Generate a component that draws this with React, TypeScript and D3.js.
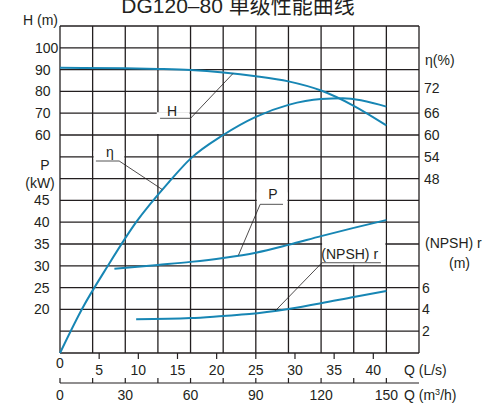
import React from "react";
import * as d3 from "d3";

// ---- data (Q in m³/h) ----
const Q_H = [0, 30, 45, 60, 75, 90, 105, 120, 135, 150];
const H_VALUES = [90.8, 90.6, 90.3, 89.8, 88.7, 87.0, 84.6, 80.4, 73.4, 64.4];
const Q_ETA = [0, 10, 22, 35, 50, 60, 75, 90, 105, 120, 130, 150];
const ETA_VALUES = [0, 12, 24, 36, 47, 53.5, 60, 65, 68.3, 69.9, 70.1, 67.8];
const Q_P = [25, 45, 60, 75, 90, 105, 120, 135, 150];
const P_VALUES = [29.3, 30.2, 30.9, 31.8, 33.0, 34.8, 36.8, 38.7, 40.5];
const Q_NPSH = [35, 60, 75, 87, 105, 120, 135, 150];
const NPSH_VALUES = [3.09, 3.2, 3.4, 3.57, 4.04, 4.56, 5.14, 5.69];

const H_TICKS = [100, 90, 80, 70, 60];
const P_TICKS = [45, 40, 35, 30, 25, 20];
const ETA_TICKS = [72, 66, 60, 54, 48];
const NPSH_TICKS = [6, 4, 2];
const QLS_TICKS = [0, 5, 10, 15, 20, 25, 30, 35, 40];
const QM3_TICKS = [0, 30, 60, 90, 120, 150];
const QM3_MINOR = [0, 15, 30, 45, 60, 75, 90, 105, 120, 135, 150];

const TITLE = "DG120–80 单级性能曲线";

const CURVE = "#1786b4";
const INK = "#231f20";
const FONT = "'Liberation Sans', Arial, 'Noto Sans CJK SC', sans-serif";

export default function App() {
  const x = d3.scaleLinear().domain([0, 165]).range([60, 419]);
  const yH = d3.scaleLinear().domain([-40, 110]).range([353, 26]);
  const yP = d3.scaleLinear().domain([10, 85]).range([353, 26]);
  const yEta = d3.scaleLinear().domain([0, 90]).range([353, 26]);
  const yN = d3.scaleLinear().domain([0, 30]).range([353, 26]);
  const xLs = (v: number) => x(v * 3.6);

  const mk = (qs: number[], vs: number[], y: d3.ScaleLinear<number, number>) =>
    d3
      .line<number>()
      .x((_, i) => x(qs[i]))
      .y((v) => y(v))
      .curve(d3.curveMonotoneX)(vs) || "";

  const vLines = d3.range(0, 166, 15);
  const hLines = d3.range(-40, 111, 10);

  // white label boxes (in data units)
  const masks = [
    { x0: x(45) - 1.2, x1: x(60) - 1, y0: yH(70) - 1, y1: yH(60) - 1 },
    { x0: x(15) + 1, x1: x(30) - 1, y0: yH(50) - 6, y1: yH(50) + 2 },
    { x0: x(90) + 1, x1: x(105) - 1, y0: yH(30) - 8, y1: yH(30) + 2 },
    { x0: x(120) + 1, x1: x(150) - 1, y0: yH(20) + 1, y1: yH(0) - 1 },
  ];

  const annotations = [
    { text: "H", tx: 51.5, ty: 68.7, anchor: "middle", u0: 46, u1: 60, uy: 67.66, from: 60, to: [79.5, yH(88.2)] },
    { text: "η", tx: 22.9, ty: 49.9, anchor: "middle", u0: 16.5, u1: 27.2, uy: 48.07, from: 27.2, to: [47, yEta(45)] },
    { text: "P", tx: 97.9, ty: 30.8, anchor: "middle", u0: 92, u1: 102.5, uy: 28.2, from: 92, to: [82, yP(32.4)] },
    { text: "(NPSH) r", tx: 120.1, ty: 2.9, anchor: "start", u0: 120.4, u1: 147.5, uy: 1.4, from: 120.4, to: [99, yN(3.88)] },
  ];

  return (
    <svg
      width={494}
      height={408}
      style={{ position: "absolute", left: 0, top: 0, background: "#fff" }}
      fontFamily={FONT}
    >
      <rect x={0} y={0} width={494} height={408} fill="#fff" />
      <text x={238} y={12.5} fontSize={21} textAnchor="middle" fill={INK}>
        {TITLE}
      </text>

      {/* grid */}
      <g stroke={INK} strokeWidth={1.3}>
        {vLines.map((q) => (
          <line key={"v" + q} x1={x(q)} x2={x(q)} y1={yH(110)} y2={yH(-40)} />
        ))}
        {hLines.map((h) => (
          <line key={"h" + h} x1={x(0)} x2={x(165)} y1={yH(h)} y2={yH(h)} />
        ))}
      </g>
      {masks.map((m, i) => (
        <rect key={"m" + i} x={m.x0} y={m.y0} width={m.x1 - m.x0} height={m.y1 - m.y0} fill="#fff" />
      ))}

      {/* curves */}
      <g fill="none" stroke={CURVE} strokeWidth={2}>
        <path d={mk(Q_H, H_VALUES, yH)} />
        <path d={mk(Q_ETA, ETA_VALUES, yEta)} />
        <path d={mk(Q_P, P_VALUES, yP)} />
        <path d={mk(Q_NPSH, NPSH_VALUES, yN)} />
      </g>

      {/* annotations */}
      {annotations.map((a) => (
        <g key={a.text}>
          <line x1={x(a.u0)} x2={x(a.u1)} y1={yH(a.uy)} y2={yH(a.uy)} stroke="#555" strokeWidth={1} />
          <line x1={x(a.from)} y1={yH(a.uy)} x2={x(a.to[0])} y2={a.to[1]} stroke={INK} strokeWidth={0.8} />
          <text x={x(a.tx)} y={yH(a.ty)} fontSize={14} textAnchor={a.anchor as any} fill={INK}>
            {a.text}
          </text>
        </g>
      ))}

      {/* left axis labels */}
      <text x={23} y={25} fontSize={14} fill={INK}>H (m)</text>
      {H_TICKS.map((t) => (
        <text key={"ht" + t} x={35} y={yH(t)} dy="0.36em" fontSize={14} fill={INK}>
          {t}
        </text>
      ))}
      <text x={45} y={170} fontSize={14} textAnchor="middle" fill={INK}>P</text>
      <text x={40} y={188} fontSize={14} textAnchor="middle" fill={INK}>(kW)</text>
      {P_TICKS.map((t) => (
        <text key={"pt" + t} x={34} y={yP(t)} dy="0.36em" fontSize={14} fill={INK}>
          {t}
        </text>
      ))}

      {/* right axis labels */}
      <text x={425} y={65} fontSize={14} fill={INK}>η(%)</text>
      {ETA_TICKS.map((t) => (
        <text key={"et" + t} x={424} y={yEta(t) - (t === 72 ? 3 : 0)} dy="0.36em" fontSize={14} fill={INK}>
          {t}
        </text>
      ))}
      <text x={425} y={248} fontSize={14} fill={INK}>(NPSH) r</text>
      <text x={449} y={268} fontSize={14} fill={INK}>(m)</text>
      {NPSH_TICKS.map((t) => (
        <text key={"nt" + t} x={422} y={yN(t)} dy="0.36em" fontSize={14} fill={INK}>
          {t}
        </text>
      ))}

      {/* Q L/s axis */}
      <g stroke={INK} strokeWidth={1.2}>
        {QLS_TICKS.filter((t) => t > 0).map((t) => (
          <line key={"lt" + t} x1={xLs(t)} x2={xLs(t)} y1={353} y2={359} />
        ))}
      </g>
      {QLS_TICKS.map((t) => (
        <text key={"ll" + t} x={xLs(t)} y={t === 0 ? 368 : 375} fontSize={14} textAnchor="middle" fill={INK}>
          {t}
        </text>
      ))}
      <text x={404} y={375} fontSize={14} fill={INK}>Q (L/s)</text>

      {/* Q m3/h axis */}
      <g stroke={INK} strokeWidth={1.2}>
        <line x1={x(0)} x2={x(165)} y1={383} y2={383} />
        {QM3_MINOR.map((t) => (
          <line key={"mt" + t} x1={x(t)} x2={x(t)} y1={378} y2={383} />
        ))}
      </g>
      {QM3_TICKS.map((t) => (
        <text key={"ml" + t} x={x(t)} y={400} fontSize={14} textAnchor="middle" fill={INK}>
          {t}
        </text>
      ))}
      <text x={404} y={400} fontSize={14} fill={INK}>
        Q (m<tspan dy={-5} fontSize={9}>3</tspan>
        <tspan dy={5}>/h)</tspan>
      </text>
    </svg>
  );
}
